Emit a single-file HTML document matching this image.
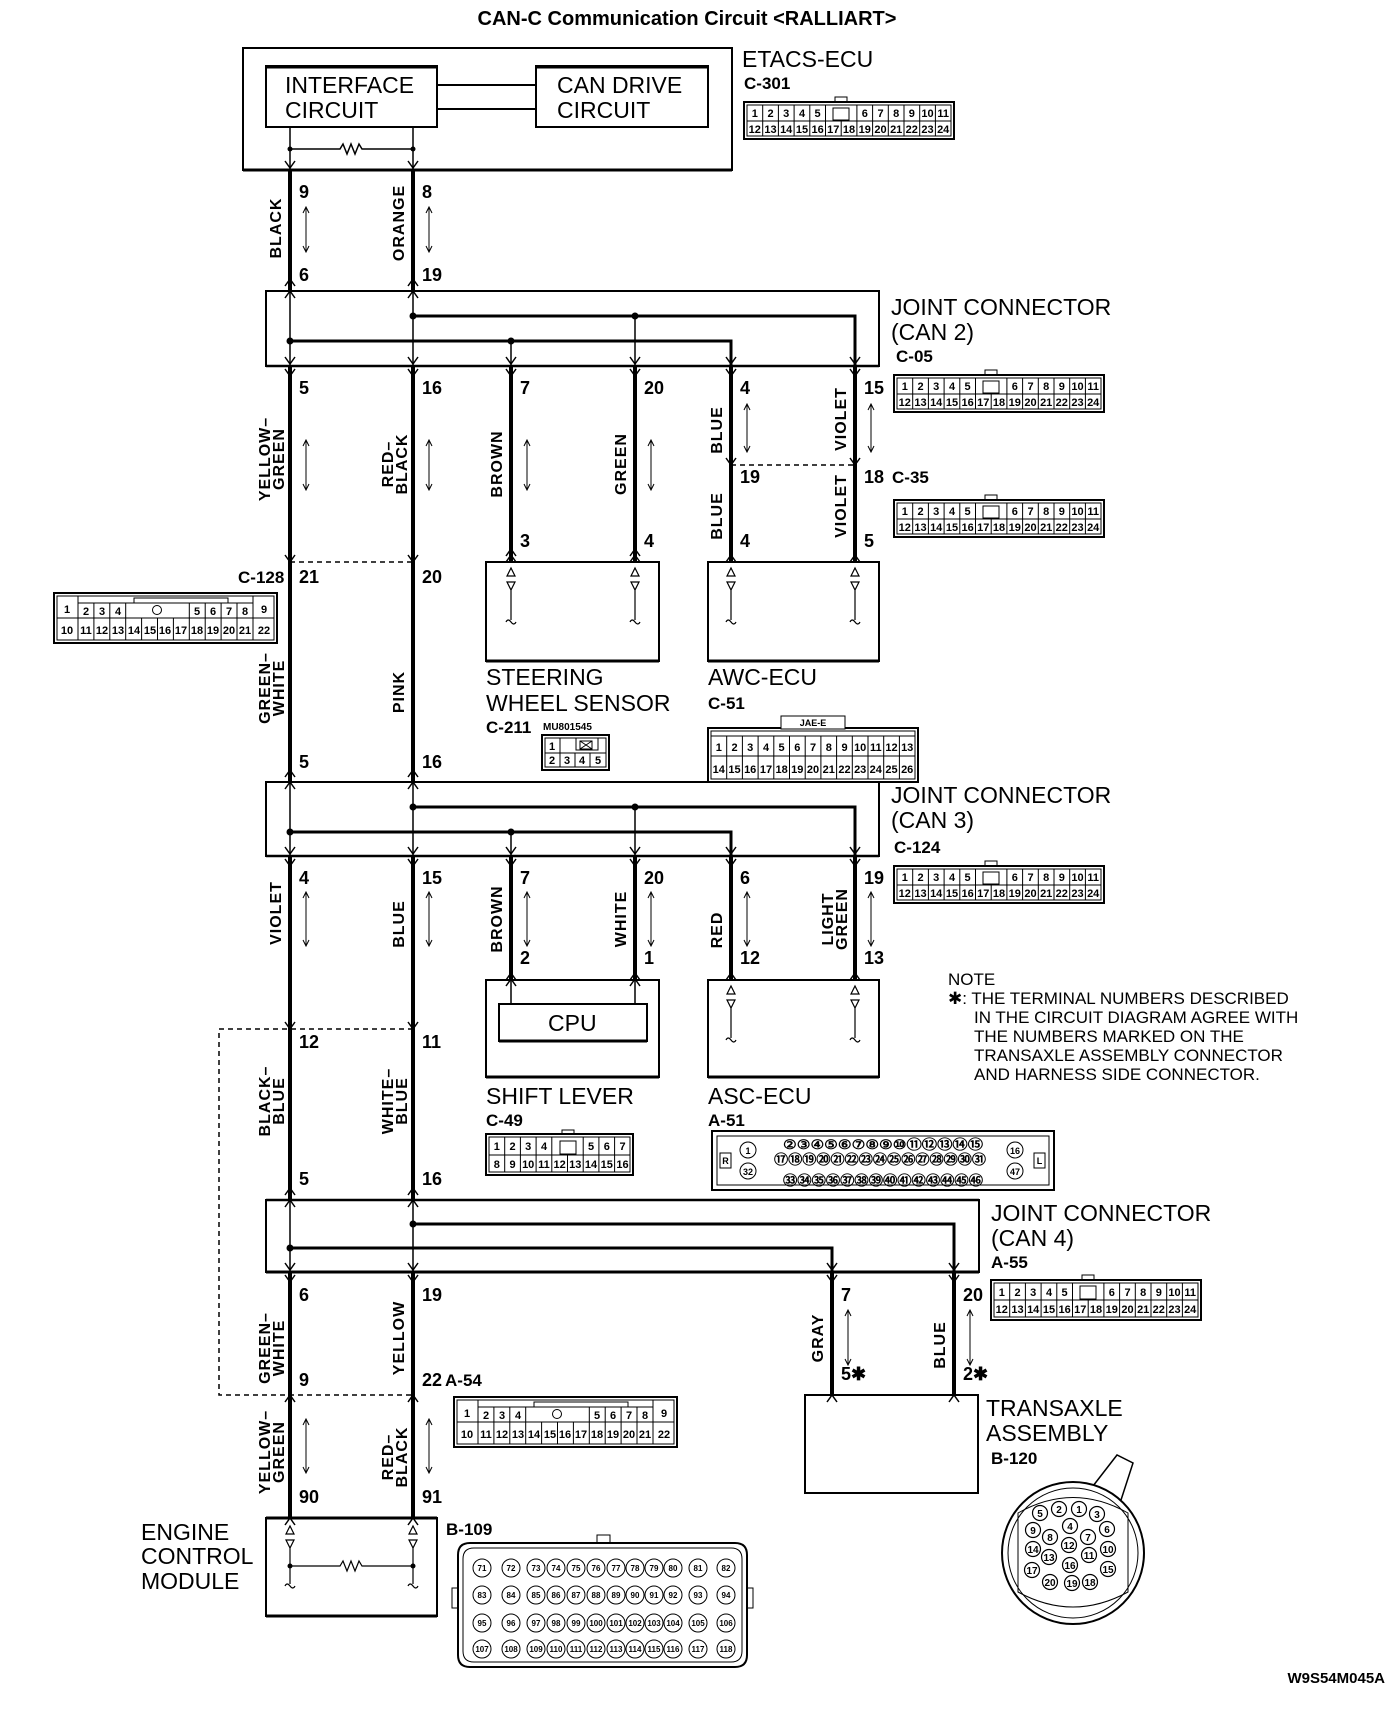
<!DOCTYPE html>
<html><head><meta charset="utf-8">
<style>
html,body{margin:0;padding:0;background:#fff;}
svg{display:block;}
text{font-family:"Liberation Sans Narrow","Liberation Sans",sans-serif;fill:#000;}
.ti{font-family:"Liberation Sans",sans-serif;font-weight:bold;font-size:20px;}
.lb{font-size:23px;}
.cn{font-size:17px;font-weight:bold;}
.pn{font-size:18px;font-weight:bold;}
.wl{font-size:16px;font-weight:bold;font-family:"Liberation Sans",sans-serif;letter-spacing:1px;}
.s{font-size:11px;font-weight:bold;text-anchor:middle;}
.xs{font-size:9px;font-weight:bold;text-anchor:middle;}
.nt{font-size:17px;}
</style></head><body>
<svg width="1392" height="1712" viewBox="0 0 1392 1712" xmlns="http://www.w3.org/2000/svg">
<text class="ti" x="687" y="25" text-anchor="middle">CAN-C Communication Circuit &lt;RALLIART&gt;</text>

<g fill="none" stroke="#000" stroke-width="2">
<rect x="243" y="48" width="489" height="122"/>
<rect x="266" y="66" width="171" height="61"/>
<rect x="536" y="66" width="172" height="61"/>
<line x1="266" y1="67" x2="437" y2="67" stroke-width="3"/>
<line x1="536" y1="67" x2="708" y2="67" stroke-width="3"/>
<line x1="437" y1="85" x2="536" y2="85"/>
<line x1="437" y1="109" x2="536" y2="109"/>
<line x1="290" y1="127" x2="290" y2="170" stroke-width="1.5"/>
<line x1="413" y1="127" x2="413" y2="170" stroke-width="1.5"/>
<path d="M290 149H340l3 -5 4 10 4 -10 4 10 4 -10 3 5H413" stroke-width="1.5"/>
<line x1="243" y1="170" x2="732" y2="170" stroke-width="3"/>

<rect x="266" y="291" width="613" height="75"/>
<rect x="266" y="782" width="613" height="74"/>
<rect x="266" y="1200" width="713" height="72"/>
<line x1="266" y1="366" x2="879" y2="366" stroke-width="2.5"/>
<line x1="266" y1="856" x2="879" y2="856" stroke-width="2.5"/>
<line x1="266" y1="1272" x2="979" y2="1272" stroke-width="3"/>
<line x1="266" y1="1200" x2="979" y2="1200" stroke-width="2.5"/>

<rect x="486" y="562" width="173" height="99"/>
<rect x="708" y="562" width="171" height="99"/>
<rect x="486" y="980" width="173" height="97"/>
<rect x="499" y="1004" width="148" height="37"/>
<rect x="708" y="980" width="171" height="97"/>
<rect x="805" y="1395" width="173" height="98"/>
<rect x="266" y="1518" width="171" height="98"/>
<line x1="486" y1="661" x2="659" y2="661" stroke-width="3"/>
<line x1="708" y1="661" x2="879" y2="661" stroke-width="3"/>
<line x1="486" y1="1077" x2="659" y2="1077" stroke-width="3"/>
<line x1="708" y1="1077" x2="879" y2="1077" stroke-width="3"/>
<line x1="499" y1="1041" x2="647" y2="1041" stroke-width="3"/>
<line x1="266" y1="1616" x2="437" y2="1616" stroke-width="3"/>
<line x1="266" y1="1518" x2="437" y2="1518" stroke-width="3"/>
<line x1="805" y1="1493" x2="978" y2="1493" stroke-width="2"/>
</g>

<g stroke="#000" stroke-width="4" fill="none">
<path d="M290 170V291M413 170V291"/>
<path d="M290 366V782M413 366V782"/>
<path d="M511 366V562M635 366V562M731 366V562M855 366V562"/>
<path d="M290 856V1200M413 856V1200"/>
<path d="M511 856V980M635 856V980M731 856V980M855 856V980"/>
<path d="M290 1272V1518M413 1272V1518"/>
<path d="M832 1272V1395M954 1272V1395"/>
<path d="M413 316H855V366M290 341H731V366" stroke-width="3"/>
<path d="M413 807H855V856M290 832H731V856" stroke-width="3"/>
<path d="M413 1224H954V1272M290 1248H832V1272" stroke-width="3"/>
</g>
<g stroke="#000" stroke-width="1.5" fill="none">
<path d="M290 291V366M413 291V366M511 341V366M635 316V366"/>
<path d="M290 782V856M413 782V856M511 832V856M635 807V856"/>
<path d="M290 1200V1272M413 1200V1272"/>
<path d="M511 980V1004M635 980V1004"/>
<path d="M290 562H413" stroke-dasharray="5,4"/>
<path d="M731 465H855" stroke-dasharray="5,4"/>
<path d="M413 1029H219V1395H413" stroke-dasharray="5,4"/>
</g>
<g fill="#000">
<circle cx="413" cy="316" r="3.5"/><circle cx="635" cy="316" r="3.5"/><circle cx="290" cy="341" r="3.5"/><circle cx="511" cy="341" r="3.5"/>
<circle cx="413" cy="807" r="3.5"/><circle cx="635" cy="807" r="3.5"/><circle cx="290" cy="832" r="3.5"/><circle cx="511" cy="832" r="3.5"/>
<circle cx="413" cy="1224" r="3.5"/><circle cx="290" cy="1248" r="3.5"/>
<circle cx="290" cy="149" r="2.5"/><circle cx="413" cy="149" r="2.5"/>
</g>

<g stroke="#000" stroke-width="1.5" fill="none">
<path d="M285 161l5 7 5-7M408 161l5 7 5-7"/>
<path d="M285 298l5-7 5 7M408 298l5-7 5 7M285 286l5-7 5 7M408 286l5-7 5 7"/>
<path d="M285 357l5 7 5-7M408 357l5 7 5-7M506 357l5 7 5-7M630 357l5 7 5-7M726 357l5 7 5-7M850 357l5 7 5-7"/>
<path d="M285 369l5 7 5-7M408 369l5 7 5-7M506 369l5 7 5-7M630 369l5 7 5-7M726 369l5 7 5-7M850 369l5 7 5-7"/>
<path d="M726 458l5 7 5-7M850 458l5 7 5-7"/>
<path d="M506 562l5-7 5 7M630 562l5-7 5 7M726 562l5-7 5 7M850 562l5-7 5 7M506 556l5-7 5 7M630 556l5-7 5 7"/>
<path d="M285 555l5 7 5-7M408 555l5 7 5-7"/>
<path d="M285 789l5-7 5 7M408 789l5-7 5 7M285 777l5-7 5 7M408 777l5-7 5 7"/>
<path d="M285 847l5 7 5-7M408 847l5 7 5-7M506 847l5 7 5-7M630 847l5 7 5-7M726 847l5 7 5-7M850 847l5 7 5-7"/>
<path d="M285 859l5 7 5-7M408 859l5 7 5-7M506 859l5 7 5-7M630 859l5 7 5-7M726 859l5 7 5-7M850 859l5 7 5-7"/>
<path d="M506 980l5-7 5 7M630 980l5-7 5 7M726 980l5-7 5 7M850 980l5-7 5 7M506 986l5-7 5 7M630 986l5-7 5 7"/>
<path d="M285 1022l5 7 5-7M408 1022l5 7 5-7"/>
<path d="M285 1207l5-7 5 7M408 1207l5-7 5 7M285 1195l5-7 5 7M408 1195l5-7 5 7"/>
<path d="M285 1263l5 7 5-7M408 1263l5 7 5-7M827 1263l5 7 5-7M949 1263l5 7 5-7"/>
<path d="M285 1275l5 7 5-7M408 1275l5 7 5-7M827 1275l5 7 5-7M949 1275l5 7 5-7"/>
<path d="M285 1402l5-7 5 7M408 1402l5-7 5 7M827 1402l5-7 5 7M949 1402l5-7 5 7"/>
<path d="M285 1525l5-7 5 7M408 1525l5-7 5 7"/>
</g>

<g stroke="#000" stroke-width="1.2" fill="none">
<path d="M507 576l4-8 4 8zM507 582l4 8 4-8zM511 590V620M506 622q2-4 5 0t5 0"/>
<path d="M631 576l4-8 4 8zM631 582l4 8 4-8zM635 590V620M630 622q2-4 5 0t5 0"/>
<path d="M727 576l4-8 4 8zM727 582l4 8 4-8zM731 590V620M726 622q2-4 5 0t5 0"/>
<path d="M851 576l4-8 4 8zM851 582l4 8 4-8zM855 590V620M850 622q2-4 5 0t5 0"/>
<path d="M727 994l4-8 4 8zM727 1000l4 8 4-8zM731 1008V1038M726 1040q2-4 5 0t5 0"/>
<path d="M851 994l4-8 4 8zM851 1000l4 8 4-8zM855 1008V1038M850 1040q2-4 5 0t5 0"/>
<path d="M286 1534l4-8 4 8zM286 1540l4 8 4-8zM290 1548V1584M285 1586q2-4 5 0t5 0"/>
<path d="M409 1534l4-8 4 8zM409 1540l4 8 4-8zM413 1548V1584M408 1586q2-4 5 0t5 0"/>
<path d="M290 1566H340l3 -5 4 10 4 -10 4 10 4 -10 3 5H413"/>
</g>
<circle cx="290" cy="1566" r="2.5"/><circle cx="413" cy="1566" r="2.5"/>

<g stroke="#000" stroke-width="1" fill="none">
<path d="M306 207V252M303 213l3-6 3 6M303 246l3 6 3-6"/>
<path d="M429 207V252M426 213l3-6 3 6M426 246l3 6 3-6"/>
<path d="M306 440V490M303 446l3-6 3 6M303 484l3 6 3-6"/>
<path d="M429 440V490M426 446l3-6 3 6M426 484l3 6 3-6"/>
<path d="M527 440V490M524 446l3-6 3 6M524 484l3 6 3-6"/>
<path d="M651 440V490M648 446l3-6 3 6M648 484l3 6 3-6"/>
<path d="M747 404V452M744 410l3-6 3 6M744 446l3 6 3-6"/>
<path d="M871 404V452M868 410l3-6 3 6M868 446l3 6 3-6"/>
<path d="M306 892V946M303 898l3-6 3 6M303 940l3 6 3-6"/>
<path d="M429 892V946M426 898l3-6 3 6M426 940l3 6 3-6"/>
<path d="M527 892V946M524 898l3-6 3 6M524 940l3 6 3-6"/>
<path d="M651 892V946M648 898l3-6 3 6M648 940l3 6 3-6"/>
<path d="M747 892V946M744 898l3-6 3 6M744 940l3 6 3-6"/>
<path d="M871 892V946M868 898l3-6 3 6M868 940l3 6 3-6"/>
<path d="M848 1310V1365M845 1316l3-6 3 6M845 1359l3 6 3-6"/>
<path d="M970 1310V1365M967 1316l3-6 3 6M967 1359l3 6 3-6"/>
<path d="M306 1419V1473M303 1425l3-6 3 6M303 1467l3 6 3-6"/>
<path d="M429 1419V1473M426 1425l3-6 3 6M426 1467l3 6 3-6"/>
</g>

<g class="wl">
<text transform="translate(281,228) rotate(-90)" text-anchor="middle">BLACK</text>
<text transform="translate(404,223) rotate(-90)" text-anchor="middle">ORANGE</text>
<text transform="translate(270,459) rotate(-90)" text-anchor="middle">YELLOW–</text>
<text transform="translate(284,459) rotate(-90)" text-anchor="middle">GREEN</text>
<text transform="translate(393,464) rotate(-90)" text-anchor="middle">RED–</text>
<text transform="translate(407,464) rotate(-90)" text-anchor="middle">BLACK</text>
<text transform="translate(502,464) rotate(-90)" text-anchor="middle">BROWN</text>
<text transform="translate(626,464) rotate(-90)" text-anchor="middle">GREEN</text>
<text transform="translate(722,430) rotate(-90)" text-anchor="middle">BLUE</text>
<text transform="translate(846,419) rotate(-90)" text-anchor="middle">VIOLET</text>
<text transform="translate(722,516) rotate(-90)" text-anchor="middle">BLUE</text>
<text transform="translate(846,506) rotate(-90)" text-anchor="middle">VIOLET</text>
<text transform="translate(270,688) rotate(-90)" text-anchor="middle">GREEN–</text>
<text transform="translate(284,688) rotate(-90)" text-anchor="middle">WHITE</text>
<text transform="translate(404,692) rotate(-90)" text-anchor="middle">PINK</text>
<text transform="translate(281,913) rotate(-90)" text-anchor="middle">VIOLET</text>
<text transform="translate(404,924) rotate(-90)" text-anchor="middle">BLUE</text>
<text transform="translate(502,919) rotate(-90)" text-anchor="middle">BROWN</text>
<text transform="translate(626,919) rotate(-90)" text-anchor="middle">WHITE</text>
<text transform="translate(722,930) rotate(-90)" text-anchor="middle">RED</text>
<text transform="translate(833,919) rotate(-90)" text-anchor="middle">LIGHT</text>
<text transform="translate(847,919) rotate(-90)" text-anchor="middle">GREEN</text>
<text transform="translate(270,1101) rotate(-90)" text-anchor="middle">BLACK–</text>
<text transform="translate(284,1101) rotate(-90)" text-anchor="middle">BLUE</text>
<text transform="translate(393,1101) rotate(-90)" text-anchor="middle">WHITE–</text>
<text transform="translate(407,1101) rotate(-90)" text-anchor="middle">BLUE</text>
<text transform="translate(270,1348) rotate(-90)" text-anchor="middle">GREEN–</text>
<text transform="translate(284,1348) rotate(-90)" text-anchor="middle">WHITE</text>
<text transform="translate(404,1338) rotate(-90)" text-anchor="middle">YELLOW</text>
<text transform="translate(823,1338) rotate(-90)" text-anchor="middle">GRAY</text>
<text transform="translate(945,1345) rotate(-90)" text-anchor="middle">BLUE</text>
<text transform="translate(270,1452) rotate(-90)" text-anchor="middle">YELLOW–</text>
<text transform="translate(284,1452) rotate(-90)" text-anchor="middle">GREEN</text>
<text transform="translate(393,1457) rotate(-90)" text-anchor="middle">RED–</text>
<text transform="translate(407,1457) rotate(-90)" text-anchor="middle">BLACK</text>
</g>

<g class="pn">
<text x="299" y="198">9</text><text x="422" y="198">8</text>
<text x="299" y="281">6</text><text x="422" y="281">19</text>
<text x="299" y="394">5</text><text x="422" y="394">16</text><text x="520" y="394">7</text><text x="644" y="394">20</text><text x="740" y="394">4</text><text x="864" y="394">15</text>
<text x="740" y="483">19</text><text x="864" y="483">18</text>
<text x="520" y="547">3</text><text x="644" y="547">4</text><text x="740" y="547">4</text><text x="864" y="547">5</text>
<text x="299" y="583">21</text><text x="422" y="583">20</text>
<text x="299" y="768">5</text><text x="422" y="768">16</text>
<text x="299" y="884">4</text><text x="422" y="884">15</text><text x="520" y="884">7</text><text x="644" y="884">20</text><text x="740" y="884">6</text><text x="864" y="884">19</text>
<text x="520" y="964">2</text><text x="644" y="964">1</text><text x="740" y="964">12</text><text x="864" y="964">13</text>
<text x="299" y="1048">12</text><text x="422" y="1048">11</text>
<text x="299" y="1185">5</text><text x="422" y="1185">16</text>
<text x="299" y="1301">6</text><text x="422" y="1301">19</text><text x="841" y="1301">7</text><text x="963" y="1301">20</text>
<text x="299" y="1386">9</text><text x="422" y="1386">22</text>
<text x="841" y="1380">5✱</text><text x="963" y="1380">2✱</text>
<text x="299" y="1503">90</text><text x="422" y="1503">91</text>
</g>

<g class="lb">
<text x="742" y="67">ETACS-ECU</text>
<text x="285" y="93">INTERFACE</text><text x="285" y="118">CIRCUIT</text>
<text x="557" y="93">CAN DRIVE</text><text x="557" y="118">CIRCUIT</text>
<text x="891" y="315">JOINT CONNECTOR</text><text x="891" y="340">(CAN 2)</text>
<text x="486" y="685">STEERING</text><text x="486" y="711">WHEEL SENSOR</text>
<text x="708" y="685">AWC-ECU</text>
<text x="891" y="803">JOINT CONNECTOR</text><text x="891" y="828">(CAN 3)</text>
<text x="486" y="1104">SHIFT LEVER</text>
<text x="708" y="1104">ASC-ECU</text>
<text x="548" y="1031">CPU</text>
<text x="991" y="1221">JOINT CONNECTOR</text><text x="991" y="1246">(CAN 4)</text>
<text x="986" y="1416">TRANSAXLE</text><text x="986" y="1441">ASSEMBLY</text>
<text x="141" y="1540">ENGINE</text><text x="141" y="1564">CONTROL</text><text x="141" y="1589">MODULE</text>
</g>
<g class="cn">
<text x="744" y="89">C-301</text>
<text x="896" y="362">C-05</text>
<text x="892" y="483">C-35</text>
<text x="238" y="583">C-128</text>
<text x="486" y="733">C-211</text><text x="543" y="730" style="font-size:10px">MU801545</text>
<text x="708" y="709">C-51</text>
<text x="894" y="853">C-124</text>
<text x="486" y="1126">C-49</text>
<text x="708" y="1126">A-51</text>
<text x="991" y="1268">A-55</text>
<text x="445" y="1386">A-54</text>
<text x="991" y="1464">B-120</text>
<text x="446" y="1535">B-109</text>
<text x="1385" y="1683" text-anchor="end" style="font-size:15px">W9S54M045A</text>
</g>
<g class="nt">
<text x="948" y="985">NOTE</text>
<text x="948" y="1004">✱: THE TERMINAL NUMBERS DESCRIBED</text>
<text x="974" y="1023">IN THE CIRCUIT DIAGRAM AGREE WITH</text>
<text x="974" y="1042">THE NUMBERS MARKED ON THE</text>
<text x="974" y="1061">TRANSAXLE ASSEMBLY CONNECTOR</text>
<text x="974" y="1080">AND HARNESS SIDE CONNECTOR.</text>
</g>

<g transform="translate(744,102)">
<rect x="0" y="0" width="210" height="37" fill="none" stroke="#000" stroke-width="2"/>
<rect x="3" y="3" width="204" height="31" fill="none" stroke="#000" stroke-width="1"/>
<path d="M3 19H207M18.7 3V34M34.4 3V34M50.1 3V34M65.8 3V34M81.5 3V34M112.9 3V34M128.6 3V34M144.3 3V34M160 3V34M175.7 3V34M191.4 3V34M97.2 19V34" stroke="#000" fill="none" stroke-width="1"/>
<rect x="89" y="6" width="16" height="12" fill="#fff" stroke="#000"/><rect x="91" y="-5" width="12" height="5" fill="none" stroke="#000"/>
<g class="s"><text x="10.8" y="15">1</text><text x="26.5" y="15">2</text><text x="42.2" y="15">3</text><text x="58" y="15">4</text><text x="73.6" y="15">5</text><text x="120.8" y="15">6</text><text x="136.5" y="15">7</text><text x="152.2" y="15">8</text><text x="167.8" y="15">9</text><text x="183.5" y="15">10</text><text x="199.2" y="15">11</text>
<text x="10.8" y="31">12</text><text x="26.5" y="31">13</text><text x="42.2" y="31">14</text><text x="58" y="31">15</text><text x="73.6" y="31">16</text><text x="89.3" y="31">17</text><text x="105" y="31">18</text><text x="120.8" y="31">19</text><text x="136.5" y="31">20</text><text x="152.2" y="31">21</text><text x="167.8" y="31">22</text><text x="183.5" y="31">23</text><text x="199.2" y="31">24</text></g>
</g>
<g transform="translate(894,375)">
<rect x="0" y="0" width="210" height="37" fill="none" stroke="#000" stroke-width="2"/>
<rect x="3" y="3" width="204" height="31" fill="none" stroke="#000" stroke-width="1"/>
<path d="M3 19H207M18.7 3V34M34.4 3V34M50.1 3V34M65.8 3V34M81.5 3V34M112.9 3V34M128.6 3V34M144.3 3V34M160 3V34M175.7 3V34M191.4 3V34M97.2 19V34" stroke="#000" fill="none" stroke-width="1"/>
<rect x="89" y="6" width="16" height="12" fill="#fff" stroke="#000"/><rect x="91" y="-5" width="12" height="5" fill="none" stroke="#000"/>
<g class="s"><text x="10.8" y="15">1</text><text x="26.5" y="15">2</text><text x="42.2" y="15">3</text><text x="58" y="15">4</text><text x="73.6" y="15">5</text><text x="120.8" y="15">6</text><text x="136.5" y="15">7</text><text x="152.2" y="15">8</text><text x="167.8" y="15">9</text><text x="183.5" y="15">10</text><text x="199.2" y="15">11</text>
<text x="10.8" y="31">12</text><text x="26.5" y="31">13</text><text x="42.2" y="31">14</text><text x="58" y="31">15</text><text x="73.6" y="31">16</text><text x="89.3" y="31">17</text><text x="105" y="31">18</text><text x="120.8" y="31">19</text><text x="136.5" y="31">20</text><text x="152.2" y="31">21</text><text x="167.8" y="31">22</text><text x="183.5" y="31">23</text><text x="199.2" y="31">24</text></g>
</g>
<g transform="translate(894,500)">
<rect x="0" y="0" width="210" height="37" fill="none" stroke="#000" stroke-width="2"/>
<rect x="3" y="3" width="204" height="31" fill="none" stroke="#000" stroke-width="1"/>
<path d="M3 19H207M18.7 3V34M34.4 3V34M50.1 3V34M65.8 3V34M81.5 3V34M112.9 3V34M128.6 3V34M144.3 3V34M160 3V34M175.7 3V34M191.4 3V34M97.2 19V34" stroke="#000" fill="none" stroke-width="1"/>
<rect x="89" y="6" width="16" height="12" fill="#fff" stroke="#000"/><rect x="91" y="-5" width="12" height="5" fill="none" stroke="#000"/>
<g class="s"><text x="10.8" y="15">1</text><text x="26.5" y="15">2</text><text x="42.2" y="15">3</text><text x="58" y="15">4</text><text x="73.6" y="15">5</text><text x="120.8" y="15">6</text><text x="136.5" y="15">7</text><text x="152.2" y="15">8</text><text x="167.8" y="15">9</text><text x="183.5" y="15">10</text><text x="199.2" y="15">11</text>
<text x="10.8" y="31">12</text><text x="26.5" y="31">13</text><text x="42.2" y="31">14</text><text x="58" y="31">15</text><text x="73.6" y="31">16</text><text x="89.3" y="31">17</text><text x="105" y="31">18</text><text x="120.8" y="31">19</text><text x="136.5" y="31">20</text><text x="152.2" y="31">21</text><text x="167.8" y="31">22</text><text x="183.5" y="31">23</text><text x="199.2" y="31">24</text></g>
</g>
<g transform="translate(894,866)">
<rect x="0" y="0" width="210" height="37" fill="none" stroke="#000" stroke-width="2"/>
<rect x="3" y="3" width="204" height="31" fill="none" stroke="#000" stroke-width="1"/>
<path d="M3 19H207M18.7 3V34M34.4 3V34M50.1 3V34M65.8 3V34M81.5 3V34M112.9 3V34M128.6 3V34M144.3 3V34M160 3V34M175.7 3V34M191.4 3V34M97.2 19V34" stroke="#000" fill="none" stroke-width="1"/>
<rect x="89" y="6" width="16" height="12" fill="#fff" stroke="#000"/><rect x="91" y="-5" width="12" height="5" fill="none" stroke="#000"/>
<g class="s"><text x="10.8" y="15">1</text><text x="26.5" y="15">2</text><text x="42.2" y="15">3</text><text x="58" y="15">4</text><text x="73.6" y="15">5</text><text x="120.8" y="15">6</text><text x="136.5" y="15">7</text><text x="152.2" y="15">8</text><text x="167.8" y="15">9</text><text x="183.5" y="15">10</text><text x="199.2" y="15">11</text>
<text x="10.8" y="31">12</text><text x="26.5" y="31">13</text><text x="42.2" y="31">14</text><text x="58" y="31">15</text><text x="73.6" y="31">16</text><text x="89.3" y="31">17</text><text x="105" y="31">18</text><text x="120.8" y="31">19</text><text x="136.5" y="31">20</text><text x="152.2" y="31">21</text><text x="167.8" y="31">22</text><text x="183.5" y="31">23</text><text x="199.2" y="31">24</text></g>
</g>
<g transform="translate(991,1280)">
<rect x="0" y="0" width="210" height="40" fill="none" stroke="#000" stroke-width="2"/>
<rect x="3" y="3" width="204" height="34" fill="none" stroke="#000" stroke-width="1"/>
<path d="M3 20H207M18.7 3V37M34.4 3V37M50.1 3V37M65.8 3V37M81.5 3V37M112.9 3V37M128.6 3V37M144.3 3V37M160 3V37M175.7 3V37M191.4 3V37M97.2 20V37" stroke="#000" fill="none" stroke-width="1"/>
<rect x="89" y="6" width="16" height="13" fill="#fff" stroke="#000"/><rect x="91" y="-5" width="12" height="5" fill="none" stroke="#000"/>
<g class="s"><text x="10.8" y="16">1</text><text x="26.5" y="16">2</text><text x="42.2" y="16">3</text><text x="58" y="16">4</text><text x="73.6" y="16">5</text><text x="120.8" y="16">6</text><text x="136.5" y="16">7</text><text x="152.2" y="16">8</text><text x="167.8" y="16">9</text><text x="183.5" y="16">10</text><text x="199.2" y="16">11</text>
<text x="10.8" y="33">12</text><text x="26.5" y="33">13</text><text x="42.2" y="33">14</text><text x="58" y="33">15</text><text x="73.6" y="33">16</text><text x="89.3" y="33">17</text><text x="105" y="33">18</text><text x="120.8" y="33">19</text><text x="136.5" y="33">20</text><text x="152.2" y="33">21</text><text x="167.8" y="33">22</text><text x="183.5" y="33">23</text><text x="199.2" y="33">24</text></g>
</g>

<g transform="translate(54,593)">
<rect x="0" y="0" width="223" height="50" fill="none" stroke="#000" stroke-width="2"/>
<rect x="3" y="3" width="217" height="44" fill="none" stroke="#000" stroke-width="1"/>
<path d="M24 3V47M199 3V47M3 25H24M199 25H220M24 25H199M24 10H199M39.9 10V47M55.8 10V47M71.7 10V25M135.3 10V25M151.2 10V47M167.1 10V47M183 10V47M87.6 25V47M103.5 25V47M119.4 25V47M135.3 25V47M71.7 25V47M80 10V5H174V10" stroke="#000" fill="none" stroke-width="1"/>
<circle cx="103" cy="17" r="4.5" fill="none" stroke="#000"/>
<g class="s"><text x="13" y="20">1</text><text x="32" y="22">2</text><text x="48" y="22">3</text><text x="64" y="22">4</text><text x="143" y="22">5</text><text x="159" y="22">6</text><text x="175" y="22">7</text><text x="191" y="22">8</text><text x="210" y="20">9</text>
<text x="13" y="41">10</text><text x="32" y="41">11</text><text x="48" y="41">12</text><text x="64" y="41">13</text><text x="80" y="41">14</text><text x="96" y="41">15</text><text x="111" y="41">16</text><text x="127" y="41">17</text><text x="143" y="41">18</text><text x="159" y="41">19</text><text x="175" y="41">20</text><text x="191" y="41">21</text><text x="210" y="41">22</text></g>
</g>
<g transform="translate(454,1397)">
<rect x="0" y="0" width="223" height="50" fill="none" stroke="#000" stroke-width="2"/>
<rect x="3" y="3" width="217" height="44" fill="none" stroke="#000" stroke-width="1"/>
<path d="M24 3V47M199 3V47M3 25H24M199 25H220M24 25H199M24 10H199M39.9 10V47M55.8 10V47M71.7 10V25M135.3 10V25M151.2 10V47M167.1 10V47M183 10V47M87.6 25V47M103.5 25V47M119.4 25V47M135.3 25V47M71.7 25V47M80 10V5H174V10" stroke="#000" fill="none" stroke-width="1"/>
<circle cx="103" cy="17" r="4.5" fill="none" stroke="#000"/>
<g class="s"><text x="13" y="20">1</text><text x="32" y="22">2</text><text x="48" y="22">3</text><text x="64" y="22">4</text><text x="143" y="22">5</text><text x="159" y="22">6</text><text x="175" y="22">7</text><text x="191" y="22">8</text><text x="210" y="20">9</text>
<text x="13" y="41">10</text><text x="32" y="41">11</text><text x="48" y="41">12</text><text x="64" y="41">13</text><text x="80" y="41">14</text><text x="96" y="41">15</text><text x="111" y="41">16</text><text x="127" y="41">17</text><text x="143" y="41">18</text><text x="159" y="41">19</text><text x="175" y="41">20</text><text x="191" y="41">21</text><text x="210" y="41">22</text></g>
</g>

<g transform="translate(542,735)">
<rect x="0" y="0" width="67" height="35" fill="none" stroke="#000" stroke-width="2"/>
<rect x="3" y="3" width="61" height="29" fill="none" stroke="#000"/>
<path d="M3 18H64M18 3V32M33 18V32M48 18V32M34 3V15H56V3M38 6l12 8M50 6l-12 8M38 6h12v8h-12z" stroke="#000" fill="none"/>
<g class="s"><text x="10" y="15">1</text><text x="10" y="29">2</text><text x="25" y="29">3</text><text x="40" y="29">4</text><text x="56" y="29">5</text></g>
</g>

<g transform="translate(708,716)">
<rect x="0" y="12" width="210" height="54" fill="none" stroke="#000" stroke-width="2"/>
<rect x="3" y="15" width="204" height="48" fill="none" stroke="#000"/>
<rect x="73" y="0" width="64" height="13" fill="#fff" stroke="#000"/>
<text class="xs" x="105" y="10">JAE-E</text>
<path d="M3 40H207M18.7 20V63M34.4 20V63M50.1 20V63M65.8 20V63M81.5 20V63M97.2 20V63M112.9 20V63M128.6 20V63M144.3 20V63M160 20V63M175.7 20V63M191.4 20V63M3 20H207" stroke="#000" fill="none"/>
<g class="s"><text x="10.8" y="35">1</text><text x="26.5" y="35">2</text><text x="42.2" y="35">3</text><text x="58" y="35">4</text><text x="73.6" y="35">5</text><text x="89.3" y="35">6</text><text x="105" y="35">7</text><text x="120.8" y="35">8</text><text x="136.5" y="35">9</text><text x="152.2" y="35">10</text><text x="167.8" y="35">11</text><text x="183.5" y="35">12</text><text x="199.2" y="35">13</text>
<text x="10.8" y="57">14</text><text x="26.5" y="57">15</text><text x="42.2" y="57">16</text><text x="58" y="57">17</text><text x="73.6" y="57">18</text><text x="89.3" y="57">19</text><text x="105" y="57">20</text><text x="120.8" y="57">21</text><text x="136.5" y="57">22</text><text x="152.2" y="57">23</text><text x="167.8" y="57">24</text><text x="183.5" y="57">25</text><text x="199.2" y="57">26</text></g>
</g>

<g transform="translate(486,1134)">
<rect x="0" y="0" width="147" height="41" fill="none" stroke="#000" stroke-width="2"/>
<rect x="3" y="3" width="141" height="35" fill="none" stroke="#000"/>
<path d="M3 21H144M18.7 3V38M34.4 3V38M50.1 3V38M65.8 3V21M97.2 3V38M112.9 3V38M128.6 3V38M65.8 21V38M81.5 21V38" stroke="#000" fill="none"/>
<rect x="74" y="7" width="16" height="13" fill="#fff" stroke="#000"/><rect x="76" y="-4" width="12" height="4" fill="none" stroke="#000"/>
<g class="s"><text x="10.8" y="16">1</text><text x="26.5" y="16">2</text><text x="42.2" y="16">3</text><text x="58" y="16">4</text><text x="105" y="16">5</text><text x="120.8" y="16">6</text><text x="136.5" y="16">7</text>
<text x="10.8" y="34">8</text><text x="26.5" y="34">9</text><text x="42.2" y="34">10</text><text x="58" y="34">11</text><text x="73.6" y="34">12</text><text x="89.3" y="34">13</text><text x="105" y="34">14</text><text x="120.8" y="34">15</text><text x="136.5" y="34">16</text></g>
</g>

<g>
<rect x="712" y="1131" width="342" height="59" fill="none" stroke="#000" stroke-width="2"/>
<rect x="717" y="1136" width="332" height="49" fill="none" stroke="#000"/>
<rect x="720" y="1153" width="11" height="15" fill="none" stroke="#000"/><text class="xs" x="725.5" y="1164">R</text>
<rect x="1034" y="1153" width="11" height="15" fill="none" stroke="#000"/><text class="xs" x="1039.5" y="1164">L</text>
<g fill="none" stroke="#000" stroke-width="1">
<circle cx="748" cy="1150" r="8"/><circle cx="748" cy="1171" r="8"/><circle cx="1015" cy="1150" r="8"/><circle cx="1015" cy="1171" r="8"/>
</g>
<g class="xs"><text x="748" y="1154">1</text><text x="748" y="1175">32</text><text x="1015" y="1154">16</text><text x="1015" y="1175">47</text></g>
<g class="xs" style="font-size:13px">
<text x="883" y="1149" textLength="200" lengthAdjust="spacingAndGlyphs">②③④⑤⑥⑦⑧⑨⑩⑪⑫⑬⑭⑮</text>
<text x="880" y="1164" textLength="212" lengthAdjust="spacingAndGlyphs">⑰⑱⑲⑳㉑㉒㉓㉔㉕㉖㉗㉘㉙㉚㉛</text>
<text x="883" y="1185" textLength="200" lengthAdjust="spacingAndGlyphs">㉝㉞㉟㊱㊲㊳㊴㊵㊶㊷㊸㊹㊺㊻</text>
</g>
</g>

<g>
<path d="M470 1543H735Q747 1543 747 1555V1655Q747 1667 735 1667H470Q458 1667 458 1655V1555Q458 1543 470 1543Z" fill="none" stroke="#000" stroke-width="2"/>
<path d="M474 1548H731Q742 1548 742 1559V1651Q742 1662 731 1662H474Q463 1662 463 1651V1559Q463 1548 474 1548Z" fill="none" stroke="#000" stroke-width="1"/>
<rect x="597" y="1535" width="13" height="8" fill="none" stroke="#000"/>
<rect x="452" y="1588" width="6" height="20" fill="none" stroke="#000"/><rect x="747" y="1588" width="6" height="20" fill="none" stroke="#000"/>
<g fill="none" stroke="#000" stroke-width="1">
<circle cx="482" cy="1568" r="9"/><circle cx="511" cy="1568" r="9"/><circle cx="536" cy="1568" r="9"/><circle cx="556" cy="1568" r="9"/><circle cx="576" cy="1568" r="9"/><circle cx="596" cy="1568" r="9"/><circle cx="616" cy="1568" r="9"/><circle cx="635" cy="1568" r="9"/><circle cx="654" cy="1568" r="9"/><circle cx="673" cy="1568" r="9"/><circle cx="698" cy="1568" r="9"/><circle cx="726" cy="1568" r="9"/>
<circle cx="482" cy="1595" r="9"/><circle cx="511" cy="1595" r="9"/><circle cx="536" cy="1595" r="9"/><circle cx="556" cy="1595" r="9"/><circle cx="576" cy="1595" r="9"/><circle cx="596" cy="1595" r="9"/><circle cx="616" cy="1595" r="9"/><circle cx="635" cy="1595" r="9"/><circle cx="654" cy="1595" r="9"/><circle cx="673" cy="1595" r="9"/><circle cx="698" cy="1595" r="9"/><circle cx="726" cy="1595" r="9"/>
<circle cx="482" cy="1623" r="9"/><circle cx="511" cy="1623" r="9"/><circle cx="536" cy="1623" r="9"/><circle cx="556" cy="1623" r="9"/><circle cx="576" cy="1623" r="9"/><circle cx="596" cy="1623" r="9"/><circle cx="616" cy="1623" r="9"/><circle cx="635" cy="1623" r="9"/><circle cx="654" cy="1623" r="9"/><circle cx="673" cy="1623" r="9"/><circle cx="698" cy="1623" r="9"/><circle cx="726" cy="1623" r="9"/>
<circle cx="482" cy="1649" r="9"/><circle cx="511" cy="1649" r="9"/><circle cx="536" cy="1649" r="9"/><circle cx="556" cy="1649" r="9"/><circle cx="576" cy="1649" r="9"/><circle cx="596" cy="1649" r="9"/><circle cx="616" cy="1649" r="9"/><circle cx="635" cy="1649" r="9"/><circle cx="654" cy="1649" r="9"/><circle cx="673" cy="1649" r="9"/><circle cx="698" cy="1649" r="9"/><circle cx="726" cy="1649" r="9"/>
</g>
<g class="xs" style="font-size:8px">
<text x="482" y="1571">71</text><text x="511" y="1571">72</text><text x="536" y="1571">73</text><text x="556" y="1571">74</text><text x="576" y="1571">75</text><text x="596" y="1571">76</text><text x="616" y="1571">77</text><text x="635" y="1571">78</text><text x="654" y="1571">79</text><text x="673" y="1571">80</text><text x="698" y="1571">81</text><text x="726" y="1571">82</text>
<text x="482" y="1598">83</text><text x="511" y="1598">84</text><text x="536" y="1598">85</text><text x="556" y="1598">86</text><text x="576" y="1598">87</text><text x="596" y="1598">88</text><text x="616" y="1598">89</text><text x="635" y="1598">90</text><text x="654" y="1598">91</text><text x="673" y="1598">92</text><text x="698" y="1598">93</text><text x="726" y="1598">94</text>
<text x="482" y="1626">95</text><text x="511" y="1626">96</text><text x="536" y="1626">97</text><text x="556" y="1626">98</text><text x="576" y="1626">99</text><text x="596" y="1626">100</text><text x="616" y="1626">101</text><text x="635" y="1626">102</text><text x="654" y="1626">103</text><text x="673" y="1626">104</text><text x="698" y="1626">105</text><text x="726" y="1626">106</text>
<text x="482" y="1652">107</text><text x="511" y="1652">108</text><text x="536" y="1652">109</text><text x="556" y="1652">110</text><text x="576" y="1652">111</text><text x="596" y="1652">112</text><text x="616" y="1652">113</text><text x="635" y="1652">114</text><text x="654" y="1652">115</text><text x="673" y="1652">116</text><text x="698" y="1652">117</text><text x="726" y="1652">118</text>
</g>
</g>

<g fill="none" stroke="#000">
<path d="M1093 1486L1117 1455L1133 1463L1121 1500" fill="#fff" stroke-width="1.5"/>
<circle cx="1073" cy="1553" r="71" stroke-width="2" fill="#fff"/>
<circle cx="1073" cy="1553" r="65" stroke-width="1"/>
<path d="M1018 1513Q1073 1482 1128 1513V1592Q1073 1622 1018 1592Z" stroke-width="1"/>
<g stroke-width="1.2">
<circle cx="1040" cy="1513" r="7.5"/><circle cx="1059" cy="1509" r="7.5"/><circle cx="1079" cy="1509" r="7.5"/><circle cx="1097" cy="1514" r="7.5"/>
<circle cx="1033" cy="1530" r="7.5"/><circle cx="1050" cy="1537" r="7.5"/><circle cx="1070" cy="1526" r="7.5"/><circle cx="1088" cy="1537" r="7.5"/><circle cx="1107" cy="1529" r="7.5"/>
<circle cx="1033" cy="1549" r="7.5"/><circle cx="1049" cy="1557" r="7.5"/><circle cx="1069" cy="1545" r="7.5"/><circle cx="1089" cy="1555" r="7.5"/><circle cx="1108" cy="1549" r="7.5"/>
<circle cx="1032" cy="1570" r="7.5"/><circle cx="1070" cy="1565" r="7.5"/><circle cx="1108" cy="1569" r="7.5"/>
<circle cx="1050" cy="1582" r="7.5"/><circle cx="1072" cy="1583" r="7.5"/><circle cx="1090" cy="1582" r="7.5"/>
</g>
</g>
<g class="xs" style="font-size:10px">
<text x="1040" y="1517">5</text><text x="1059" y="1513">2</text><text x="1079" y="1513">1</text><text x="1097" y="1518">3</text>
<text x="1033" y="1534">9</text><text x="1050" y="1541">8</text><text x="1070" y="1530">4</text><text x="1088" y="1541">7</text><text x="1107" y="1533">6</text>
<text x="1033" y="1553">14</text><text x="1049" y="1561">13</text><text x="1069" y="1549">12</text><text x="1089" y="1559">11</text><text x="1108" y="1553">10</text>
<text x="1032" y="1574">17</text><text x="1070" y="1569">16</text><text x="1108" y="1573">15</text>
<text x="1050" y="1586">20</text><text x="1072" y="1587">19</text><text x="1090" y="1586">18</text>
</g>
</svg>
</body></html>
